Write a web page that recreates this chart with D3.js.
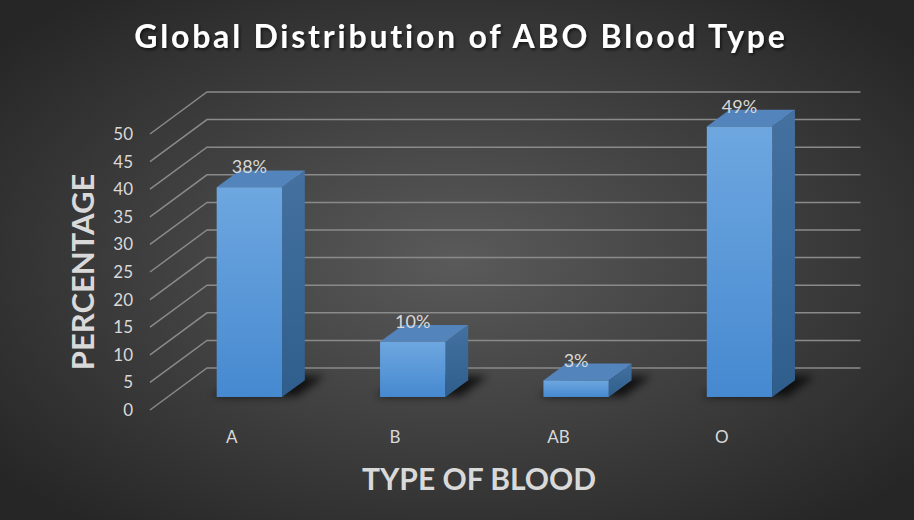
<!DOCTYPE html>
<html lang="en">
<head>
    <meta charset="UTF-8">
    <title>Global Distribution of ABO Blood Type</title>
    <script src="https://d3js.org/d3.v7.min.js"></script>
    <style>
        body {
            margin: 0;
            background-color: #2b2b2b;
        }
        .tick-label, .cat-label, .data-label {
            font-family: Lato, sans-serif;
            fill: #d9d9d9;
        }
        .tick-label { font-size: 17px; }
        .cat-label { font-size: 17px; }
        .data-label { font-size: 18px; }
        .axis-title {
            font-family: Lato, sans-serif;
            font-weight: bold;
            fill: #d9d9d9;
        }
        .title {
            font-family: Lato, sans-serif;
            font-weight: bold;
            font-size: 32px;
            fill: #ffffff;
            letter-spacing: 2.8px;
        }
        .grid {
            stroke: #8a8a8a;
            stroke-width: 1.5;
            fill: none;
        }
    </style>
</head>
<body>
<script>
    const bloodTypes = ["A", "B", "AB", "O"];
    const percentages = [38, 10, 3, 49];
    const yTicks = [0, 5, 10, 15, 20, 25, 30, 35, 40, 45, 50];

    const width = 914;
    const height = 520;

    // oblique depth: offset of the back wall from the front plane
    const depthX = 57;
    const depthY = -42;
    const barFront = 0.31;
    const barBack = 0.71;

    const svg = d3.select("body")
        .append("svg")
        .attr("width", width)
        .attr("height", height);

    const defs = svg.append("defs");

    const bg = defs.append("radialGradient")
        .attr("id", "bg")
        .attr("cx", "50%").attr("cy", "50%").attr("r", "65%");
    bg.append("stop").attr("offset", "0%").attr("stop-color", "#5a5a5a");
    bg.append("stop").attr("offset", "100%").attr("stop-color", "#262626");

    const front = defs.append("linearGradient")
        .attr("id", "front").attr("x1", 0).attr("y1", 0).attr("x2", 0).attr("y2", 1);
    front.append("stop").attr("offset", "0%").attr("stop-color", "#6ea7e0");
    front.append("stop").attr("offset", "100%").attr("stop-color", "#4689d0");

    const side = defs.append("linearGradient")
        .attr("id", "side").attr("x1", 0).attr("y1", 0).attr("x2", 0).attr("y2", 1);
    side.append("stop").attr("offset", "0%").attr("stop-color", "#44719f");
    side.append("stop").attr("offset", "100%").attr("stop-color", "#2f5e8d");

    defs.append("filter").attr("id", "blur")
        .attr("x", "-50%").attr("y", "-50%").attr("width", "200%").attr("height", "200%")
        .append("feGaussianBlur").attr("stdDeviation", 4);

    defs.append("filter").attr("id", "tshadow")
        .append("feDropShadow")
        .attr("dx", 1.5).attr("dy", 2).attr("stdDeviation", 1.5)
        .attr("flood-color", "#000").attr("flood-opacity", 0.6);

    svg.append("rect")
        .attr("width", width)
        .attr("height", height)
        .attr("fill", "url(#bg)");

    const x = d3.scaleBand()
        .domain(bloodTypes)
        .range([150, 803.5])
        .paddingInner(0.6)
        .paddingOuter(0.3);

    const y = d3.scaleLinear()
        .domain([0, 50])
        .range([410, 134]);

    function proj(px, v, z) {
        return [px + z * depthX, y(v) + z * depthY];
    }

    // gridlines: side wall diagonals + back wall horizontals
    const grid = svg.append("g");
    yTicks.forEach(t => {
        const p0 = proj(150, t, 0);
        const p1 = proj(150, t, 1);
        const p2 = proj(803.5, t, 1);
        grid.append("path")
            .attr("class", "grid")
            .attr("d", d3.line()([p0, p1, p2]));
    });

    // y axis labels
    svg.append("g")
        .attr("transform", "translate(133,0)")
        .call(d3.axisLeft(y).tickValues(yTicks).tickSize(0).tickPadding(0))
        .call(g => g.select(".domain").remove())
        .call(g => g.selectAll("text")
            .attr("class", "tick-label")
            .attr("font-family", null)
            .attr("font-size", null)
            .attr("fill", null));

    const data = bloodTypes.map((c, i) => ({ cat: c, value: percentages[i] }));

    // shadows on floor
    svg.append("g").selectAll("path")
        .data(data)
        .join("path")
        .attr("d", d => {
            const x0 = x(d.cat) - 6, x1 = x(d.cat) + x.bandwidth() + 14;
            return d3.line()([
                proj(x0, 0, barFront + 0.02),
                proj(x1, 0, barFront + 0.02),
                proj(x1, 0, barBack + 0.1),
                proj(x0 + 10, 0, barBack + 0.1)
            ]) + "Z";
        })
        .attr("fill", "#000")
        .attr("opacity", 0.75)
        .attr("filter", "url(#blur)");

    const bars = svg.append("g").selectAll("g")
        .data(data)
        .join("g");

    // right side face
    bars.append("path")
        .attr("d", d => {
            const x1 = x(d.cat) + x.bandwidth();
            return d3.line()([
                proj(x1, 0, barFront),
                proj(x1, 0, barBack),
                proj(x1, d.value, barBack),
                proj(x1, d.value, barFront)
            ]) + "Z";
        })
        .attr("fill", "url(#side)");

    // top face
    bars.append("path")
        .attr("d", d => {
            const x0 = x(d.cat), x1 = x(d.cat) + x.bandwidth();
            return d3.line()([
                proj(x0, d.value, barFront),
                proj(x1, d.value, barFront),
                proj(x1, d.value, barBack),
                proj(x0, d.value, barBack)
            ]) + "Z";
        })
        .attr("fill", "#5385bc");

    // front face
    bars.append("rect")
        .attr("x", d => proj(x(d.cat), 0, barFront)[0])
        .attr("y", d => proj(0, d.value, barFront)[1])
        .attr("width", x.bandwidth())
        .attr("height", d => y(0) - y(d.value))
        .attr("fill", "url(#front)");

    // data labels
    svg.append("g").selectAll("text")
        .data(data)
        .join("text")
        .attr("class", "data-label")
        .attr("text-anchor", "middle")
        .attr("x", d => proj(x(d.cat) + x.bandwidth() / 2, d.value, barFront)[0])
        .attr("y", d => proj(0, d.value, barBack)[1] + 3)
        .text(d => d.value + "%");

    // category labels
    svg.append("g").selectAll("text")
        .data(bloodTypes)
        .join("text")
        .attr("class", "cat-label")
        .attr("text-anchor", "middle")
        .attr("x", d => x(d) + x.bandwidth() / 2)
        .attr("y", 443)
        .text(d => d);

    svg.append("text")
        .attr("class", "title")
        .attr("text-anchor", "middle")
        .attr("x", 461)
        .attr("y", 48)
        .attr("filter", "url(#tshadow)")
        .text("Global Distribution of ABO Blood Type");

    svg.append("text")
        .attr("class", "axis-title")
        .attr("font-size", 31)
        .attr("text-anchor", "middle")
        .attr("transform", "translate(94,272) rotate(-90)")
        .text("PERCENTAGE");

    svg.append("text")
        .attr("class", "axis-title")
        .attr("font-size", 30)
        .attr("text-anchor", "middle")
        .attr("x", 479)
        .attr("y", 490)
        .text("TYPE OF BLOOD");
</script>
</body>
</html>
